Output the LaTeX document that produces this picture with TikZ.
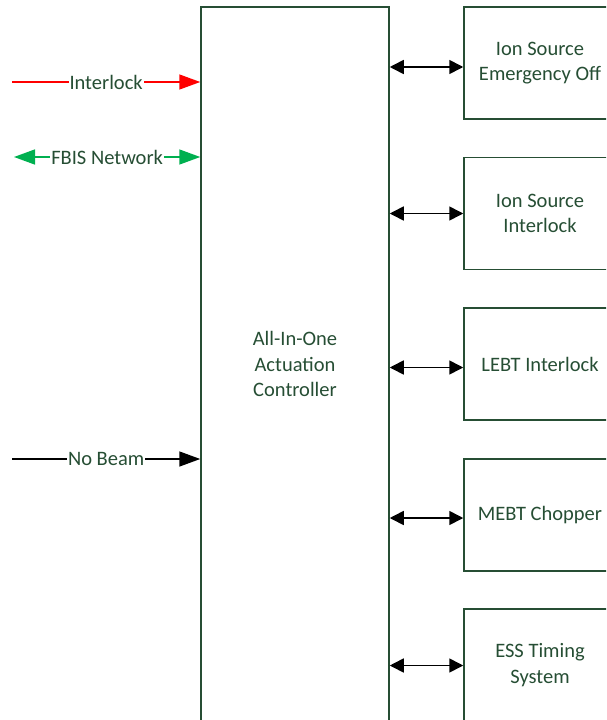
\documentclass[tikz,border=0pt]{standalone}
\usepackage{fontspec}
\setmainfont{Carlito}
\usetikzlibrary{arrows.meta,positioning}
\definecolor{essgreen}{RGB}{38,78,52}
\definecolor{ilkred}{RGB}{255,0,0}
\definecolor{fbisgreen}{RGB}{0,176,80}

\begin{document}
\begin{tikzpicture}[x=1pt,y=-1pt,font=\fontsize{20.5}{25.5}\selectfont,text=essgreen,
    blk/.style={draw=essgreen,line width=1.5pt,align=center,minimum width=152pt,minimum height=112pt,inner sep=0pt},
    lbl/.style={fill=white,text=essgreen,inner sep=1pt},
    big/.style={-{Triangle[length=21pt,width=15pt]},line width=1.5pt},
    bus/.style={{Triangle[length=14pt,width=14pt]}-{Triangle[length=14pt,width=14pt]},line width=1.6pt,black}]
        \useasboundingbox (0,0) rectangle (606,720);
        \clip (0,0) rectangle (606,720);
        % controller and the systems it acts on
        \node[blk,minimum width=188pt,minimum height=714pt] (aio) at (295,364) {All-In-One\\Actuation\\Controller};
        \node[blk] (isemo) at (540,63) {Ion Source\\Emergency Off};
        \node[blk] (isilk) at (540,213.5) {Ion Source\\Interlock};
        \node[blk] (lebt) at (540,364) {LEBT Interlock};
        \node[blk] (mebt) at (540,515) {MEBT Chopper};
        \node[blk] (tmg) at (540,665) {ESS Timing\\System};
        \draw[bus] ([yshift=-4pt]isemo.west -| aio.east) -- ([yshift=-4pt]isemo.west);
        \draw[bus] (isilk.west -| aio.east) -- (isilk.west);
        \draw[bus] ([yshift=-3.5pt]lebt.west -| aio.east) -- ([yshift=-3.5pt]lebt.west);
        \draw[bus] ([yshift=-3pt]mebt.west -| aio.east) -- ([yshift=-3pt]mebt.west);
        \draw[bus] ([yshift=-0.5pt]tmg.west -| aio.east) -- ([yshift=-0.5pt]tmg.west);
        % inputs
        \coordinate (ilk) at (12,82);
        \coordinate (fbis) at (14,157);
        \coordinate (nob) at (12,459);
        \draw[big,ilkred] (ilk) -- node[lbl]{Interlock} (ilk -| aio.west);
        \draw[big,{Triangle[length=21pt,width=15pt]}-{Triangle[length=21pt,width=15pt]},fbisgreen] (fbis) -- node[lbl]{FBIS Network} (fbis -| aio.west);
        \draw[big,black] (nob) -- node[lbl]{No Beam} (nob -| aio.west);
      \end{tikzpicture}
\end{document}
